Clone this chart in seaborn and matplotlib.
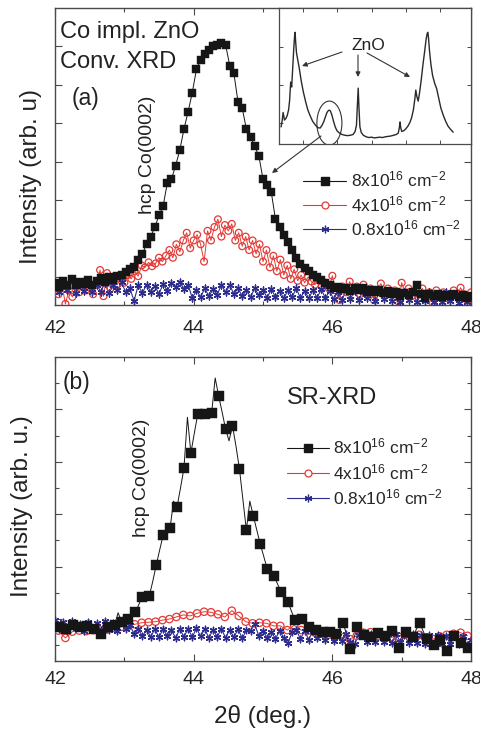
import numpy as np
import matplotlib
matplotlib.use("Agg")
import matplotlib.pyplot as plt
import seaborn as sns
from matplotlib.lines import Line2D
from matplotlib.patches import Ellipse

sns.set_theme(style="ticks")
plt.rcParams["font.family"] = ["Liberation Sans", "DejaVu Sans"]
plt.rcParams["mathtext.fontset"] = "custom"
plt.rcParams["mathtext.rm"] = "Liberation Sans"
plt.rcParams["mathtext.it"] = "Liberation Sans:italic"
plt.rcParams["mathtext.default"] = "regular"

# ---------------- data ----------------
# (a) conventional XRD, 2theta grid of the scans
conv_8_step, conv_4_step, conv_08_step = 0.06, 0.05, 0.06
conv_8 = [
    -0.15, -0.25, -0.10, -0.20, -0.05, -0.22, -0.12, -0.18, -0.08, -0.20,
    -0.10, -0.02, -0.12, 0.00, -0.08, 0.02, 0.05, 0.14, 0.20, 0.25,
    0.45, 0.60, 0.85, 1.05, 1.30, 1.60, 1.85, 2.45, 2.55, 2.90,
    3.30, 3.85, 4.30, 4.80, 5.40, 5.65, 5.80, 5.90, 6.00, 6.05,
    6.10, 6.05, 5.50, 5.30, 4.55, 4.40, 3.85, 3.65, 3.40, 3.15,
    2.55, 2.40, 2.20, 1.50, 1.30, 1.10, 0.90, 0.70, 0.50, 0.35,
    0.22, 0.15, 0.05, 0.00, -0.08, -0.15, -0.20, -0.28, -0.25, -0.32,
    -0.28, -0.36, -0.30, -0.35, -0.30, -0.38, -0.33, -0.40, -0.35, -0.42,
    -0.36, -0.45, -0.40, -0.50, -0.42, -0.48, -0.40, -0.22, -0.45, -0.55,
    -0.44, -0.50, -0.45, -0.52, -0.46, -0.50, -0.45, -0.52, -0.48, -0.55,
    -0.50,
]
conv_4 = [
    -0.30, -0.45, -0.20, -0.70, -0.35, -0.52, -0.25, -0.40, -0.15, -0.35,
    -0.28, -0.45, -0.20, 0.18, -0.50, 0.10, -0.30, -0.10, -0.20, 0.00,
    -0.15, 0.05, -0.05, 0.15, 0.02, 0.30, 0.25, 0.38, 0.28, 0.35,
    0.50, 0.40, 0.55, 0.70, 0.50, 0.85, 0.65, 0.95, 1.15, 0.75,
    0.95, 1.10, 0.85, 0.40, 1.20, 0.95, 1.30, 1.50, 1.05, 1.35,
    1.20, 1.38, 0.95, 1.15, 0.80, 1.05, 0.70, 0.95, 0.60, 0.85,
    0.40, 0.70, 0.25, 0.55, 0.15, 0.45, 0.05, 0.30, -0.05, 0.20,
    -0.10, 0.05, -0.15, 0.00, -0.12, -0.20, -0.08, -0.25, -0.15, -0.30,
    0.03, -0.35, -0.60, -0.25, -0.40, -0.12, -0.35, -0.25, -0.45, -0.20,
    -0.38, -0.30, -0.60, -0.35, -0.17, -0.40, -0.30, -0.45, -0.35, -0.80,
    -0.15, -0.40, -0.30, -0.50, -0.35, -0.45, -0.30, -0.55, -0.40, -0.68,
    -0.35, -0.50, -0.40, -0.55, -0.45, -0.35, -0.50, -0.28, -0.45, -0.60,
    -0.40,
]
conv_08 = [
    -0.18, -0.40, -0.22, -0.35, -0.12, -0.42, -0.20, -0.36, -0.15, -0.40,
    -0.20, -0.38, -0.16, -0.42, -0.22, -0.35, -0.14, -0.40, -0.30, -0.62,
    -0.22, -0.42, -0.20, -0.38, -0.24, -0.44, -0.18, -0.36, -0.15, -0.25,
    -0.12, -0.32, -0.20, -0.55, -0.35, -0.52, -0.30, -0.50, -0.32, -0.46,
    -0.20, -0.40, -0.22, -0.44, -0.30, -0.50, -0.34, -0.52, -0.30, -0.48,
    -0.34, -0.54, -0.32, -0.52, -0.36, -0.56, -0.34, -0.52, -0.30, -0.55,
    -0.36, -0.56, -0.34, -0.54, -0.32, -0.55, -0.36, -0.58, -0.38, -0.60,
    -0.34, -0.58, -0.36, -0.60, -0.38, -0.56, -0.36, -0.62, -0.40, -0.58,
    -0.36, -0.62, -0.40, -0.64, -0.38, -0.60, -0.36, -0.66, -0.42, -0.62,
    -0.40, -0.66, -0.44, -0.64, -0.40, -0.62, -0.44, -0.68, -0.46, -0.64,
    -0.52,
]

# (b) synchrotron XRD
sr_8_squares = [  # at 42.06, 42.16, ...
    -0.15, -0.18, -0.12, -0.16, -0.14, -0.18, -0.29, -0.15, -0.11, -0.05,
    0.00, 0.14, 0.43, 0.44, 1.03, 1.60, 1.74, 2.14, 2.88, 3.17,
    3.92, 3.92, 3.94, 4.26, 3.63, 3.69, 2.87, 1.70, 1.97, 1.43,
    0.96, 0.82, 0.52, 0.33, -0.02, 0.00, -0.15, -0.20, -0.24, -0.25,
    -0.28, -0.08, -0.58, -0.15, -0.30, -0.35, -0.26, -0.32, -0.23, -0.55,
    -0.24, -0.35, -0.08, -0.38, -0.50, -0.40, -0.61, -0.32, -0.45, -0.56,
]
sr_8_between = [  # scan points at 42.01, 42.11, ... (line only)
    -0.15, -0.17, -0.16, -0.14, -0.15, -0.16, -0.24, -0.22, -0.13, 0.12,
    -0.03, 0.07, 0.28, 0.44, 0.72, 1.32, 1.66, 2.25, 2.50, 3.85,
    3.55, 3.92, 3.93, 4.60, 3.95, 3.40, 3.30, 2.28, 2.25, 1.70,
    1.20, 0.89, 0.67, 0.42, 0.15, -0.01, -0.08, -0.18, -0.22, -0.25,
    -0.27, -0.18, -0.33, -0.37, -0.22, -0.33, -0.30, -0.29, -0.28, -0.39,
    -0.40, -0.30, -0.20, -0.23, -0.44, -0.45, -0.50, -0.46, -0.38, -0.50,
]
sr_4 = [  # at 42.05, 42.15, ...
    -0.22, -0.36, -0.24, -0.22, -0.23, -0.21, -0.22, -0.20, -0.17, -0.15,
    -0.13, -0.10, -0.07, -0.06, -0.05, -0.02, 0.00, 0.04, 0.08, 0.06,
    0.11, 0.14, 0.13, 0.09, 0.04, 0.16, 0.06, -0.05, -0.08, -0.07,
    -0.08, -0.13, -0.13, -0.21, -0.12, -0.21, -0.22, -0.26, -0.28, -0.30,
    -0.32, -0.35, -0.38, -0.32, -0.26, -0.25, -0.32, -0.36, -0.35, -0.33,
    -0.30, -0.34, -0.30, -0.35, -0.38, -0.33, -0.30, -0.28, -0.26, -0.32,
]
sr_08 = [  # at 42.00, 42.06, ...
    -0.02, -0.18, -0.06, -0.22, -0.04, -0.17, -0.09, -0.23, -0.05, -0.19,
    -0.07, -0.21, -0.04, -0.20, -0.08, -0.22, -0.06, -0.18, -0.12, -0.28,
    -0.18, -0.33, -0.20, -0.34, -0.19, -0.35, -0.18, -0.33, -0.21, -0.36,
    -0.19, -0.34, -0.18, -0.35, -0.17, -0.33, -0.19, -0.36, -0.20, -0.34,
    -0.18, -0.36, -0.20, -0.35, -0.19, -0.37, -0.21, -0.22, -0.10, -0.32,
    -0.22, -0.37, -0.24, -0.38, -0.22, -0.36, -0.46, -0.25, -0.21, -0.38,
    -0.23, -0.39, -0.22, -0.37, -0.24, -0.39, -0.25, -0.41, -0.26, -0.42,
    -0.28, -0.44, -0.48, -0.30, -0.27, -0.44, -0.28, -0.43, -0.27, -0.44,
    -0.29, -0.45, -0.28, -0.44, -0.30, -0.46, -0.29, -0.45, -0.31, -0.47,
    -0.30, -0.46, -0.31, -0.48, -0.32, -0.47, -0.31, -0.48, -0.33, -0.49,
    -0.40,
]

# inset: wide-range scan
wide_x = [
    23.6, 23.9, 24.2, 24.6, 25.0, 25.4, 25.8, 26.1, 26.4, 26.7,
    27.0, 27.3, 27.55, 27.7, 27.85, 28.1, 28.5, 28.9, 29.5, 30.1,
    30.8, 31.4, 32.0, 32.8, 33.6, 34.3, 35.0, 35.6, 36.1, 36.6,
    37.0, 37.4, 37.7, 38.0, 38.4, 38.9, 39.4, 39.9, 40.6, 41.4,
    42.2, 43.0, 43.8, 44.6, 45.2, 45.6, 45.85, 46.1, 46.35, 46.6,
    47.0, 47.6, 48.4, 49.2, 50.0, 50.8, 51.6, 52.4, 53.2, 54.0,
    54.8, 55.6, 56.4, 57.2, 57.8, 58.1, 58.3, 58.5, 58.8, 59.4,
    60.0, 60.6, 61.2, 61.7, 62.2, 62.6, 62.9, 63.2, 63.6, 64.0,
    64.5, 65.0, 65.5, 65.9, 66.2, 66.4, 66.6, 66.9, 67.3, 67.8,
    68.4, 69.0, 69.6, 70.2, 70.9, 71.6, 72.3, 73.0, 73.8,
]
wide_y = [
    -0.10, 0.05, 0.28, 0.08, 0.12, 0.20, 0.35, 0.60, 1.08, 0.95,
    1.45, 1.95, 2.30, 2.39, 2.15, 1.85, 1.65, 1.45, 1.10, 0.82,
    0.55, 0.35, 0.21, 0.05, -0.05, -0.12, -0.13, -0.05, 0.05, 0.18,
    0.28, 0.33, 0.34, 0.32, 0.22, 0.05, -0.10, -0.20, -0.26, -0.30,
    -0.32, -0.33, -0.32, -0.30, -0.22, -0.05, 0.45, 0.92, 0.35, -0.10,
    -0.25, -0.32, -0.36, -0.38, -0.37, -0.39, -0.38, -0.37, -0.38, -0.36,
    -0.35, -0.34, -0.32, -0.30, -0.26, -0.12, 0.03, -0.12, -0.22, -0.20,
    -0.15, -0.08, 0.02, 0.15, 0.35, 0.62, 0.87, 0.70, 0.58, 0.80,
    1.15, 1.55, 1.90, 2.20, 2.35, 2.39, 2.25, 1.90, 1.55, 1.25,
    1.05, 0.90, 0.65, 0.40, 0.21, 0.05, -0.08, -0.16, -0.24,
]

labels = [r"8x10$^{16}$ cm$^{-2}$", r"4x10$^{16}$ cm$^{-2}$", r"0.8x10$^{16}$ cm$^{-2}$"]
xticks_major = [42, 44, 46, 48]
xticks_minor = [43, 45, 47]

# scan grids
x_conv_8 = 42.0 + conv_8_step * np.arange(len(conv_8))
x_conv_4 = 42.0 + conv_4_step * np.arange(len(conv_4))
x_conv_08 = 42.0 + conv_08_step * np.arange(len(conv_08))
x_sr_sq = 42.06 + 0.1 * np.arange(len(sr_8_squares))
x_sr_bt = 42.01 + 0.1 * np.arange(len(sr_8_between))
x_sr_line = np.ravel(np.column_stack([x_sr_bt, x_sr_sq]))
y_sr_line = np.ravel(np.column_stack([sr_8_between, sr_8_squares]))
x_sr_4 = 42.05 + 0.1 * np.arange(len(sr_4))
x_sr_08 = 42.0 + 0.06 * np.arange(len(sr_08))
assert len(wide_x) == len(wide_y)

# ---------------- figure ----------------
W, H = 481, 733
fig = plt.figure(figsize=(W / 100, H / 100), dpi=100)
fig.patch.set_facecolor("white")


def box(l, t, r, b):
    return [l / W, 1 - b / H, (r - l) / W, (b - t) / H]


def fp(x, y):
    return (x / W, 1 - y / H)


BLACK, RED, NAVY, FRAME = "#161616", "#e33a36", "#2c2c8e", "#4a4a4a"

ax_a = fig.add_axes(box(55, 8, 471, 305))
ax_b = fig.add_axes(box(55, 357, 471, 661))
ax_in = fig.add_axes(box(279, 8, 471, 144))

asterisk = (6, 2, 0)


def draw_series(ax, x_line, y_line, x_mk, y_mk, color, marker, size, lw):
    sns.lineplot(x=x_line, y=y_line, ax=ax, color=color, lw=lw, sort=False,
                 estimator=None, legend=False, zorder=2)
    if marker == "o":
        sns.scatterplot(x=x_mk, y=y_mk, ax=ax, marker="o", s=size, facecolors="none",
                        edgecolor=color, linewidth=0.9, legend=False, zorder=3)
    elif marker == "s":
        sns.scatterplot(x=x_mk, y=y_mk, ax=ax, marker="s", s=size, color=color,
                        edgecolor=color, linewidth=0.3, legend=False, zorder=5)
    else:
        sns.scatterplot(x=x_mk, y=y_mk, ax=ax, marker=asterisk, s=size, color=color,
                        linewidth=1.0, legend=False, zorder=4)


# panel (a)
draw_series(ax_a, x_conv_4, conv_4, x_conv_4, conv_4, RED, "o", 24, 0.7)
draw_series(ax_a, x_conv_08, conv_08, x_conv_08, conv_08, NAVY, "*", 24, 0.8)
draw_series(ax_a, x_conv_8, conv_8, x_conv_8, conv_8, BLACK, "s", 36, 0.7)
ax_a.set_ylim(-0.73, 7.0)
ax_a.set_yticks(range(0, 7))

# panel (b)
draw_series(ax_b, x_sr_4, sr_4, x_sr_4, sr_4, RED, "o", 28, 0.7)
draw_series(ax_b, x_sr_08, sr_08, x_sr_08, sr_08, NAVY, "*", 22, 0.8)
draw_series(ax_b, x_sr_line, y_sr_line, x_sr_sq, sr_8_squares, BLACK, "s", 42, 0.7)
ax_b.set_ylim(-0.8, 5.0)
ax_b.set_yticks(range(0, 5))
ax_b.set_yticks(np.arange(-0.5, 5.0, 1.0), minor=True)

for ax, pad in ((ax_a, 11), (ax_b, 7)):
    ax.set_xlim(42, 48)
    ax.set_xticks(xticks_major)
    ax.set_xticks(xticks_minor, minor=True)
    ax.set_xticklabels([str(v) for v in xticks_major], fontsize=14)
    ax.set_xlabel("")
    ax.set_ylabel("")
    ax.tick_params(which="both", direction="in", top=True, right=True,
                   labelleft=False, color=FRAME, width=0.8)
    ax.tick_params(which="major", length=5)
    ax.tick_params(which="minor", length=3)
    ax.tick_params(axis="x", which="major", pad=pad)
    for sp in ax.spines.values():
        sp.set_color(FRAME)
        sp.set_linewidth(1.0)

# legends
def legend_handles(ms_sq, ms_o):
    return [
        Line2D([], [], color=BLACK, lw=0.8, marker="s", ms=ms_sq, mfc=BLACK, mec=BLACK),
        Line2D([], [], color=RED, lw=0.8, marker="o", ms=ms_o, mfc="white", mec=RED, mew=0.9),
        Line2D([], [], color=NAVY, lw=0.8, marker=asterisk, ms=5.5, mec=NAVY, mew=0.9),
    ]


leg_a = ax_a.legend(legend_handles(5.5, 5), labels, loc="upper left",
                    bbox_to_anchor=fp(303, 170), bbox_transform=fig.transFigure,
                    frameon=False, fontsize=12.5, handlelength=2.5, handletextpad=0.25,
                    labelspacing=0.25, borderpad=0, borderaxespad=0)
leg_b = ax_b.legend(legend_handles(6, 5), labels, loc="upper left",
                    bbox_to_anchor=fp(287, 437), bbox_transform=fig.transFigure,
                    frameon=False, fontsize=12.5, handlelength=2.4, handletextpad=0.25,
                    labelspacing=0.3, borderpad=0, borderaxespad=0)

# inset
sns.lineplot(x=wide_x, y=wide_y, ax=ax_in, color="#2a2a2a", lw=1.0, sort=False,
             estimator=None, legend=False)
ax_in.set_xlim(23, 79)
ax_in.set_ylim(-0.55, 3.03)
ax_in.set_xticks([30, 40, 50, 60, 70])
ax_in.set_yticks([0, 1, 2])
ax_in.tick_params(which="both", direction="in", top=True, right=True, length=3,
                  labelleft=False, labelbottom=False, color=FRAME, width=0.7)
ax_in.set_xlabel("")
ax_in.set_ylabel("")
for sp in ax_in.spines.values():
    sp.set_color(FRAME)
    sp.set_linewidth(0.9)
ax_in.add_patch(Ellipse((37.7, 0.0), width=7.3, height=1.16, fill=False,
                        ec="#333333", lw=0.8))

arrow_kw = dict(arrowstyle="-|>", color="#333333", lw=0.8, mutation_scale=7,
                shrinkA=0, shrinkB=0)
for (x0, y0), (x1, y1) in (((342, 52), (302, 66)), ((358, 55), (358, 77)),
                           ((367, 53), (410, 77)), ((321, 136), (272, 173))):
    ax_in.annotate("", xy=(x1, H - y1), xytext=(x0, H - y0), xycoords="figure pixels",
                   textcoords="figure pixels", arrowprops=arrow_kw)

# text
fig.text(*fp(368, 45), "ZnO", fontsize=12.5, ha="center", va="center", color="#222")
fig.text(*fp(60, 32), "Co impl. ZnO", fontsize=17, ha="left", va="center", color="#222")
fig.text(*fp(60, 62), "Conv. XRD", fontsize=17, ha="left", va="center", color="#222")
fig.text(*fp(72, 98), "(a)", fontsize=16.5, ha="left", va="center", color="#222")
fig.text(*fp(148, 155), "hcp Co(0002)", fontsize=14, rotation=90, ha="center",
         va="center", color="#222")
fig.text(*fp(31, 177), "Intensity (arb. u)", fontsize=17.5, rotation=90, ha="center",
         va="center", color="#222")
fig.text(*fp(63, 382), "(b)", fontsize=16.5, ha="left", va="center", color="#222")
fig.text(*fp(287, 398), "SR-XRD", fontsize=17, ha="left", va="center", color="#222")
fig.text(*fp(141, 478), "hcp Co(0002)", fontsize=14, rotation=90, ha="center",
         va="center", color="#222")
fig.text(*fp(22, 506), "Intensity (arb. u.)", fontsize=17.5, rotation=90, ha="center",
         va="center", color="#222")
fig.text(*fp(263, 717), "2θ (deg.)", fontsize=17.5, ha="center", va="center", color="#222")

fig.savefig("out.png", dpi=100, facecolor="white")
